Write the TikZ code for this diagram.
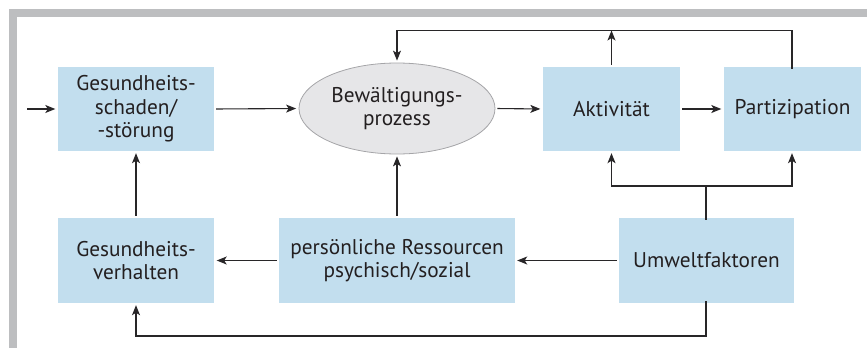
\documentclass[tikz,border=0pt]{standalone}
\usepackage{fontspec}
\setmainfont{PT Sans}
\usetikzlibrary{arrows.meta,shapes.geometric}
\definecolor{boxblue}{RGB}{194,222,238}
\definecolor{ellgray}{RGB}{230,230,232}
\definecolor{ellline}{RGB}{165,165,168}
\definecolor{framegray}{RGB}{189,190,192}
\definecolor{linecol}{RGB}{40,38,40}
\definecolor{txt}{RGB}{35,31,32}
\tikzset{
  bluebox/.style={fill=boxblue, draw=none, inner sep=0pt, align=center, text=txt,
    font=\fontsize{21.3}{23.5}\selectfont},
  ellnode/.style={ellipse, fill=ellgray, draw=ellline, line width=0.8pt, inner sep=0pt,
    minimum width=196pt, minimum height=91pt, align=center, text=txt,
    font=\fontsize{21.3}{23.5}\selectfont},
  conn/.style={draw=linecol, line width=1.1pt},
  arr/.style={conn, -{Stealth[length=10pt, width=8pt, inset=2.5pt]}},
}
\begin{document}
\begin{tikzpicture}[x=1pt, y=-1pt]
\useasboundingbox (0,0) rectangle (867,348);
% frame
\fill[framegray] (9.3,9.3) rectangle (867,16.7);
\fill[framegray] (9.3,9.3) rectangle (16.7,348);

% nodes
\node[bluebox, minimum width=156pt, minimum height=84pt] (schaden) at (136,109) {Gesundheits-\\schaden/\\-störung};
\node[ellnode] (bew) at (397,108.5) {Bewältigungs-\\prozess};
\node[bluebox, minimum width=137pt, minimum height=84pt] (akt) at (611.5,109) {Aktivität};
\node[bluebox, minimum width=137pt, minimum height=84pt] (part) at (792.5,109) {Partizipation};
\node[bluebox, minimum width=156pt, minimum height=85pt] (verh) at (136,260.5) {Gesundheits-\\verhalten};
\node[bluebox, minimum width=236pt, minimum height=85pt] (ress) at (397,260.5) {persönliche Ressourcen\\psychisch/sozial};
\node[bluebox, minimum width=175pt, minimum height=85pt] (umw) at (706.5,260.5) {Umweltfaktoren};

% helper coordinates
\coordinate (in) at (27,109);
\coordinate (topL) at (397,30.5);
\coordinate (topA) at (611.5,30.5);
\coordinate (topP) at (792,30.5);
\coordinate (midU) at (706,186);
\coordinate (midA) at (611.5,186);
\coordinate (midP) at (792,186);
\coordinate (botU) at (706,336);
\coordinate (botV) at (136,336);

% connectors
\draw[arr, shorten >=2.5pt] (in) -- (schaden.west);
\draw[arr, shorten <=2pt, shorten >=2.5pt] (schaden.east) -- (bew.west);
\draw[arr, shorten <=2pt, shorten >=2.5pt] (bew.east) -- (akt.west);
\draw[arr, shorten <=2pt, shorten >=2.5pt] (akt.east) -- (part.west);
\draw[arr, shorten >=2pt] ([yshift=-2pt]part.north -| topP) -- (topP) -- (topL) -- (bew.north);
\draw[arr, shorten <=2pt, shorten >=0pt] (akt.north) -- (topA);
\draw[conn] ([yshift=-2pt]umw.north -| midU) -- (midU);
\draw[arr, shorten >=2pt] (midU) -- (midA) -- (akt.south);
\draw[arr, shorten >=2pt] (midA) -- (midP) -- (part.south -| midP);
\draw[arr, shorten <=2pt, shorten >=2pt] (umw.west) -- (ress.east);
\draw[arr, shorten <=2pt, shorten >=2.5pt] (ress.west) -- (verh.east);
\draw[arr, shorten <=2pt, shorten >=2pt] (ress.north) -- (bew.south);
\draw[arr, shorten <=2pt, shorten >=2pt] (verh.north) -- (schaden.south);
\draw[arr, shorten >=2pt] ([yshift=2pt]umw.south -| botU) -- (botU) -- (botV) -- (verh.south);
\end{tikzpicture}
\end{document}
